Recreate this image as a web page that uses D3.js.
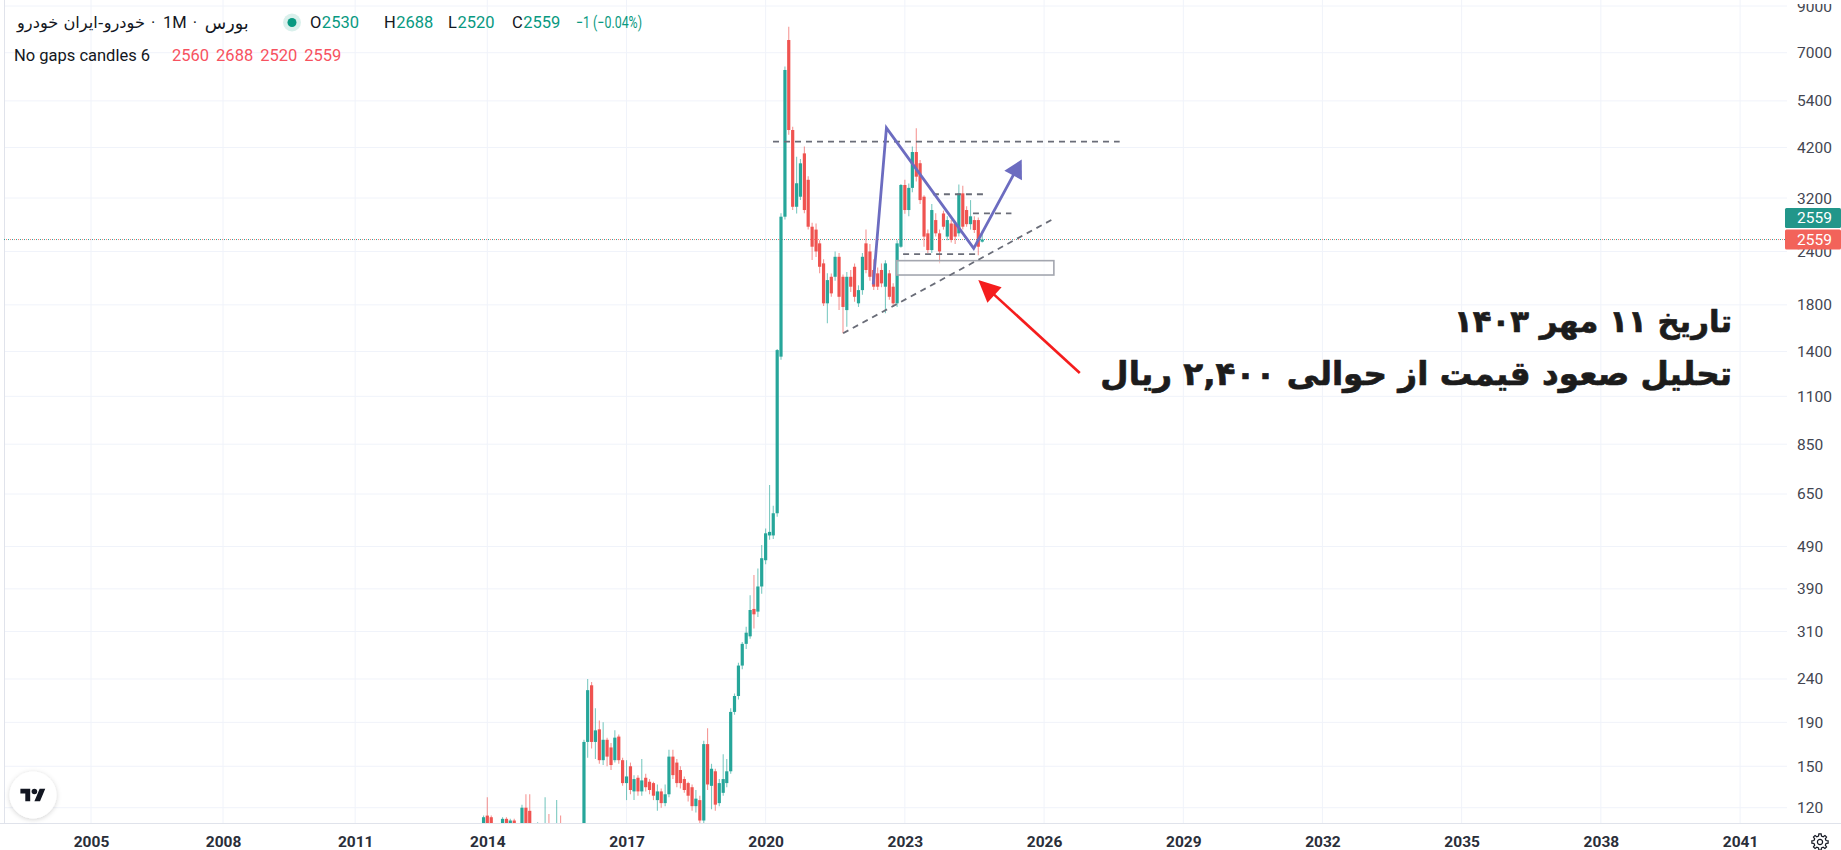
<!DOCTYPE html>
<html lang="fa">
<head>
<meta charset="utf-8">
<title>خودرو · 1M</title>
<script src="https://cdn.jsdelivr.net/npm/d3@7/dist/d3.min.js"></script>
<style>
  html, body { margin: 0; padding: 0; background: #ffffff; overflow: hidden; }
  svg { display: block; }
</style>
</head>
<body>
<svg id="chart" width="1841" height="850" xmlns="http://www.w3.org/2000/svg"></svg>
<script>
// ================= DATA =================
// monthly candles, Dec 2013 .. Sep 2024
const firstMonth = [2013, 11];   // Dec 2013 (JS month index)
const lastMonth  = [2024, 8];    // Sep 2024
const open = [
  105,
  115,114,104,100,104,113,108,112,104,104,120,118,
  108,102,108,104,109,103,101,106,100,97,95,98,
  96,100,171,232,171,183,155,173,166,155,176,155,
  137,150,131,141,131,141,138,137,125,131,123,129,
  158,153,147,140,137,134,121,125,112,169,135,146,
  123,130,137,146,201,219,258,290,302,350,345,395,
  455,520,520,586,1362,2894,7495,4616,3053,3223,4070,3530,
  2742,2700,2507,2251,1815,2094,2094,2332,2094,1750,2094,2210,
  1815,1949,2507,2400,2172,2133,2172,1985,2133,1985,1815,2462,
  3433,3000,3380,4100,3860,3223,2646,2418,2842,2646,2945,2600,
  2790,2790,2646,3282,3000,2780,2842,2842,2530
];
const high = [
  115,
  127,115,108,108,114,114,113,113,108,122,129,129,
  109,111,109,127,116,106,125,115,104,101,102,101,
  104,173,240,236,205,192,190,175,170,182,178,157,
  155,153,143,143,156,144,140,138,136,133,136,164,
  164,156,150,142,138,136,132,128,172,184,152,148,
  140,160,156,205,222,262,293,318,377,420,435,494,
  540,682,610,1420,2950,6500,8050,4700,3996,3950,4222,3600,
  2800,2790,2550,2300,2133,2130,2400,2380,2120,2150,2172,2250,
  2000,2380,2700,2500,2300,2200,2250,2290,2172,2021,2550,3450,
  3530,3460,4222,4660,3927,3250,2700,3100,2950,2700,2990,2900,
  2842,2830,3440,3420,3060,3165,2900,2880,2688
];
const low = [
  100,
  102,100,96,97,102,105,106,101,99,103,106,104,
  98,100,100,101,100,97,99,97,94,92,93,93,
  94,98,157,165,156,152,151,150,147,153,152,135,
  125,129,125,128,128,131,129,125,118,120,121,127,
  140,134,133,130,124,118,117,110,110,132,119,118,
  121,128,134,144,198,215,253,282,298,315,335,380,
  445,508,510,575,1340,2850,4500,3000,2945,3165,2950,2700,
  2292,2330,2133,1790,1630,1880,2050,1750,1545,1600,1930,1830,
  1780,1900,2133,2050,1950,1950,1980,1720,1850,1780,1780,2450,
  2940,2900,3300,3500,3100,2462,2380,2380,2600,2251,2700,2550,
  2520,2500,2600,2700,2740,2700,2650,2350,2520
];
const close = [
  114,
  106,104,100,103,113,108,112,104,103,120,110,108,
  102,108,104,109,103,101,106,100,97,95,98,96,
  100,171,226,171,182,155,173,158,151,175,155,137,
  142,132,140,131,139,134,132,128,131,123,129,158,
  143,137,137,132,128,121,126,112,169,136,148,122,
  137,140,146,201,219,258,290,308,348,340,395,460,
  526,530,586,1411,2894,6378,4616,3053,3465,3858,3000,2742,
  2462,2400,2210,1815,2057,1915,2332,1880,1780,2094,1985,1880,
  1949,2332,2172,2094,1985,1985,2021,2251,1880,1815,2507,3433,
  3000,3380,4100,3590,3165,2600,2418,3000,2646,2400,2742,2842,
  2553,2600,3282,2742,2780,2900,2694,2462,2559
];

const priceTicks = [9000,7000,5400,4200,3200,2400,1800,1400,1100,850,650,490,390,310,240,190,150,120];
const yearTicks  = [2005,2008,2011,2014,2017,2020,2023,2026,2029,2032,2035,2038,2041];

const lastPrice = 2559;
const legendTitle = "خودرو-ایران خودرو";
const legendInterval = "1M";
const legendExchange = "بورس";
const legendKeys = ["O","H","L","C"];
const legendVals = ["2530","2688","2520","2559"];
const legendChange = "−1 (−0.04%)";
const indicatorName = "No gaps candles 6";
const indicatorVals = ["2560","2688","2520","2559"];

// drawings (date, price)
const resistanceDates = ["2020-02-28","2027-08-19"];
const resistancePrice = 4335;
const levelStart = ["2023-08-10","2024-06-20","2022-12-18"];
const levelEnd   = ["2024-09-09","2025-04-19","2024-08-13"];
const levelPrice = [3266, 2947, 2367];
const trendDates = ["2021-09-02","2026-03-24"];
const trendPrices = [1545, 2869];
const zoneDates = ["2022-10-27","2026-03-19"];
const zonePrices = [2284, 2114];
const waveDates = ["2022-04-27","2022-08-09","2024-06-26","2025-07-09"];
const wavePrices = [2009, 4670, 2441, 3937];
const arrowDates = ["2026-10-09","2024-08-01"];
const arrowPrices = [1247, 2057];
const noteLine1 = "تاریخ ۱۱ مهر ۱۴۰۳";
const noteLine2 = "تحلیل صعود قیمت از حوالی ۲,۴۰۰ ریال";

// ================= CHART =================
const W = 1841, H = 850;
const FONT = "Roboto, 'DejaVu Sans', sans-serif";
const UP = "#26a69a", DOWN = "#ef5350";
const plot = { left: 4, right: 1787, top: 0, bottom: 823 };

const months = d3.timeMonth.range(new Date(firstMonth[0], firstMonth[1], 1), new Date(lastMonth[0], lastMonth[1] + 1, 1));
const candles = months.map((d, i) => ({ date: d, o: open[i], h: high[i], l: low[i], c: close[i] }));

const x = d3.scaleTime()
  .domain([new Date(2005,0,1), new Date(2014,0,1), new Date(2041,0,1)])
  .range([91, 487.3, 1740.1]);
const y = d3.scaleLog().domain([120, 7000]).range([807.7, 52.7]);
const parse = d3.timeParse("%Y-%m-%d");

const svg = d3.select("#chart");
const defs = svg.append("defs");
defs.append("clipPath").attr("id", "plotClip").append("rect")
  .attr("x", plot.left).attr("y", plot.top).attr("width", plot.right - plot.left).attr("height", plot.bottom - plot.top);
defs.append("clipPath").attr("id", "axisClip").append("rect")
  .attr("x", plot.right).attr("y", 4).attr("width", W - plot.right).attr("height", plot.bottom - 4);
const sh = defs.append("filter").attr("id", "shadow").attr("x", "-50%").attr("y", "-50%").attr("width", "200%").attr("height", "200%");
sh.append("feDropShadow").attr("dx", 0).attr("dy", 1).attr("stdDeviation", 2.5).attr("flood-color", "#000").attr("flood-opacity", 0.18);

svg.append("rect").attr("width", W).attr("height", H).attr("fill", "#ffffff");

// grid
const grid = svg.append("g").attr("clip-path", "url(#plotClip)");
grid.selectAll("line.h").data(priceTicks).join("line").attr("class", "h")
  .attr("x1", plot.left).attr("x2", plot.right)
  .attr("y1", d => y(d)).attr("y2", d => y(d))
  .attr("stroke", "#f0f3fa").attr("stroke-width", 1);
grid.selectAll("line.v").data(yearTicks).join("line").attr("class", "v")
  .attr("x1", d => x(new Date(d,0,1))).attr("x2", d => x(new Date(d,0,1)))
  .attr("y1", plot.top).attr("y2", plot.bottom)
  .attr("stroke", "#f0f3fa").attr("stroke-width", 1);

// borders
svg.append("line").attr("x1", 0).attr("x2", W).attr("y1", plot.bottom + 0.5).attr("y2", plot.bottom + 0.5)
  .attr("stroke", "#e0e3eb");
svg.append("line").attr("x1", plot.left + 0.5).attr("x2", plot.left + 0.5).attr("y1", 0).attr("y2", plot.bottom)
  .attr("stroke", "#e0e3eb");

// last price dotted line
const pl = svg.append("g").attr("clip-path", "url(#plotClip)");
pl.append("line").attr("x1", plot.left).attr("x2", plot.right)
  .attr("y1", y(lastPrice)).attr("y2", y(lastPrice))
  .attr("stroke", UP).attr("stroke-width", 1).attr("stroke-dasharray", "1 3");
pl.append("line").attr("x1", plot.left + 2).attr("x2", plot.right)
  .attr("y1", y(lastPrice)).attr("y2", y(lastPrice))
  .attr("stroke", DOWN).attr("stroke-opacity", 0.8).attr("stroke-width", 1).attr("stroke-dasharray", "1 3");

// candles
const gC = svg.append("g").attr("clip-path", "url(#plotClip)");
gC.selectAll("line.wick").data(candles).join("line").attr("class", "wick")
  .attr("x1", d => x(d.date)).attr("x2", d => x(d.date))
  .attr("y1", d => y(d.h)).attr("y2", d => y(d.l))
  .attr("stroke", d => d.c >= d.o ? UP : DOWN).attr("stroke-opacity", 0.6).attr("stroke-width", 1.1);
gC.selectAll("rect.body").data(candles).join("rect").attr("class", "body")
  .attr("x", d => x(d.date) - 1.6).attr("width", 3.2)
  .attr("y", d => y(Math.max(d.o, d.c)))
  .attr("height", d => Math.max(1, Math.abs(y(d.o) - y(d.c))))
  .attr("fill", d => d.c >= d.o ? UP : DOWN);

// drawings
const DASH = "#6a6d78";
const gA = svg.append("g").attr("clip-path", "url(#plotClip)");
gA.append("rect")
  .attr("x", x(parse(zoneDates[0]))).attr("y", y(zonePrices[0]))
  .attr("width", x(parse(zoneDates[1])) - x(parse(zoneDates[0])))
  .attr("height", y(zonePrices[1]) - y(zonePrices[0]))
  .attr("fill", "rgba(255,255,255,0.5)").attr("stroke", "#a3a6af").attr("stroke-width", 1.6);
gA.append("line")
  .attr("x1", x(parse(resistanceDates[0]))).attr("x2", x(parse(resistanceDates[1])))
  .attr("y1", y(resistancePrice)).attr("y2", y(resistancePrice))
  .attr("stroke", DASH).attr("stroke-width", 1.8).attr("stroke-dasharray", "6 5");
gA.selectAll("line.lvl").data(levelPrice).join("line").attr("class", "lvl")
  .attr("x1", (d, i) => x(parse(levelStart[i]))).attr("x2", (d, i) => x(parse(levelEnd[i])))
  .attr("y1", d => y(d)).attr("y2", d => y(d))
  .attr("stroke", DASH).attr("stroke-width", 1.8).attr("stroke-dasharray", "6 5");
gA.append("line")
  .attr("x1", x(parse(trendDates[0]))).attr("y1", y(trendPrices[0]))
  .attr("x2", x(parse(trendDates[1]))).attr("y2", y(trendPrices[1]))
  .attr("stroke", DASH).attr("stroke-width", 1.8).attr("stroke-dasharray", "6 5");

function arrowHead(g, x1, y1, x2, y2, len, halfW, color) {
  const dx = x2 - x1, dy = y2 - y1, L = Math.hypot(dx, dy);
  const ux = dx / L, uy = dy / L;
  const bx = x2 - ux * len, by = y2 - uy * len;
  const pts = [[x2, y2], [bx - uy * halfW, by + ux * halfW], [bx + uy * halfW, by - ux * halfW]];
  g.append("polygon").attr("points", pts.map(p => p.join(",")).join(" ")).attr("fill", color);
  return [bx + ux * 2, by + uy * 2];
}

const WAVE = "#6c6cc0";
const wavePts = waveDates.map((d, i) => [x(parse(d)), y(wavePrices[i])]);
const nW = wavePts.length;
const wBase = arrowHead(gA, wavePts[nW-2][0], wavePts[nW-2][1], wavePts[nW-1][0], wavePts[nW-1][1], 18, 10, WAVE);
const waveDraw = wavePts.slice(0, nW - 1).concat([wBase]);
gA.append("path").attr("d", d3.line()(waveDraw))
  .attr("fill", "none").attr("stroke", WAVE).attr("stroke-width", 2.8).attr("stroke-linejoin", "miter");

const RED = "#f51d1d";
const aPts = arrowDates.map((d, i) => [x(parse(d)), y(arrowPrices[i])]);
const aBase = arrowHead(gA, aPts[0][0], aPts[0][1], aPts[1][0], aPts[1][1], 22, 10.5, RED);
gA.append("line").attr("x1", aPts[0][0]).attr("y1", aPts[0][1]).attr("x2", aBase[0]).attr("y2", aBase[1])
  .attr("stroke", RED).attr("stroke-width", 2.6);

// y axis
const yAxis = d3.axisRight(y).tickValues(priceTicks).tickFormat(d => String(d)).tickSize(0).tickPadding(0);
const gy = svg.append("g").attr("clip-path", "url(#axisClip)").append("g")
  .attr("transform", "translate(1797,0)").call(yAxis);
gy.select(".domain").remove();
gy.selectAll("text").attr("font-family", FONT).attr("font-size", 15.5).attr("fill", "#434651");

// last price labels
const lbl = svg.append("g").attr("font-family", FONT).attr("font-size", 15.5);
const lblData = [{ c: "#22968a", off: -21.5 }, { c: "#f2635a", off: 0 }];
lbl.selectAll("rect").data(lblData).join("rect")
  .attr("x", 1785).attr("width", 56)
  .attr("y", d => y(lastPrice) + d.off - 10).attr("height", 20)
  .attr("rx", 1.5).attr("fill", d => d.c);
lbl.selectAll("text").data(lblData).join("text")
  .attr("x", 1797).attr("y", d => y(lastPrice) + d.off)
  .attr("dominant-baseline", "central").attr("fill", "#ffffff")
  .text(String(lastPrice));

// x axis
const xAxis = d3.axisBottom(x).tickValues(yearTicks.map(yr => new Date(yr,0,1)))
  .tickFormat(d3.timeFormat("%Y")).tickSize(0).tickPadding(0);
const gx = svg.append("g").attr("transform", "translate(0,835.5)").call(xAxis);
gx.select(".domain").remove();
gx.selectAll("text").attr("font-family", FONT).attr("font-size", 15.5).attr("font-weight", "bold").attr("fill", "#2a2e39");

// legend
const LFS = 16.5;
const leg = svg.append("g").attr("font-family", FONT).attr("font-size", LFS);
function put(xp, yp, txt, color, opts) {
  const t = leg.append("text").attr("x", xp).attr("y", yp).attr("dominant-baseline", "central")
    .attr("fill", color).text(txt);
  if (opts && opts.family) t.attr("font-family", opts.family);
  if (opts && opts.width) {
    const w0 = t.node().getComputedTextLength();
    t.attr("font-size", LFS * opts.width / w0);
  }
  if (opts && opts.squeeze) {
    t.attr("textLength", opts.squeeze).attr("lengthAdjust", "spacingAndGlyphs");
  }
  if (opts && opts.anchor) t.attr("text-anchor", opts.anchor);
  return t.node().getComputedTextLength();
}
const R1 = 22.5, R2 = 55.5, DARK = "#131722", TEAL = "#089981";
const PFONT = "'DejaVu Sans', sans-serif";
let lx = 17;
lx += put(lx, R1, legendTitle, DARK, { family: PFONT, width: 128 });
put(lx + 6, R1, "·", DARK, {});
lx += 18;
lx += put(lx, R1, legendInterval, DARK, {});
put(lx + 6, R1, "·", DARK, {});
lx += 18;
put(lx, R1, legendExchange, DARK, { family: PFONT, width: 44 });
leg.append("circle").attr("cx", 292).attr("cy", R1).attr("r", 9).attr("fill", TEAL).attr("fill-opacity", 0.15);
leg.append("circle").attr("cx", 292).attr("cy", R1).attr("r", 4.5).attr("fill", TEAL);
const ohlcX = [310, 384, 448, 512];
legendKeys.forEach((k, i) => {
  const w = put(ohlcX[i], R1, k, DARK, {});
  put(ohlcX[i] + w + 0.5, R1, legendVals[i], TEAL, {});
});
put(576, R1, legendChange, TEAL, { squeeze: 66 });
put(14, R2, indicatorName, DARK, {});
let ix = 172;
indicatorVals.forEach(v => { const w = put(ix, R2, v, "#f7525f", {}); ix += w + 7; });

// note text
const note = svg.append("g").attr("font-family", "'DejaVu Sans', sans-serif").attr("font-weight", "bold")
  .attr("fill", "#1c1c1c").attr("stroke", "#1c1c1c").attr("stroke-width", 0.7).attr("stroke-linejoin", "round");
const n2 = note.append("text").attr("x", 1732).attr("y", 385).attr("text-anchor", "end").attr("font-size", 36).text(noteLine2);
const fs = 36 * 632 / n2.node().getComputedTextLength();
n2.attr("font-size", fs);
const n1 = note.append("text").attr("x", 1732).attr("y", 332).attr("text-anchor", "end").attr("font-size", fs).text(noteLine1);
const fs1 = Math.min(fs, fs * 278 / n1.node().getComputedTextLength());
n1.attr("font-size", fs1);

// TradingView logo
const logo = svg.append("g").attr("transform", "translate(33,795)");
logo.append("circle").attr("r", 23.5).attr("fill", "#ffffff").attr("filter", "url(#shadow)");
const lg = logo.append("g").attr("transform", "translate(-12.6,-9.1) scale(0.7)").attr("fill", "#131722");
lg.append("path").attr("d", "M14 22H7V11H0V4h14v18zM28 22h-8l7.5-18h8L28 22z");
lg.append("circle").attr("cx", 20).attr("cy", 8).attr("r", 4);

// settings gear
const gear = svg.append("g").attr("transform", "translate(1820,842)");
const gearPts = [];
d3.range(8).forEach(k => {
  const a0 = k * Math.PI / 4;
  [[-0.24, 6.2], [-0.14, 8.2], [0.14, 8.2], [0.24, 6.2]].forEach(([da, r]) => {
    gearPts.push([Math.cos(a0 + da) * r, Math.sin(a0 + da) * r]);
  });
});
gear.append("path").attr("d", d3.line().curve(d3.curveLinearClosed)(gearPts))
  .attr("fill", "none").attr("stroke", "#131722").attr("stroke-width", 1.2);
gear.append("circle").attr("r", 2.6).attr("fill", "none").attr("stroke", "#131722").attr("stroke-width", 1.2);
</script>
</body>
</html>
